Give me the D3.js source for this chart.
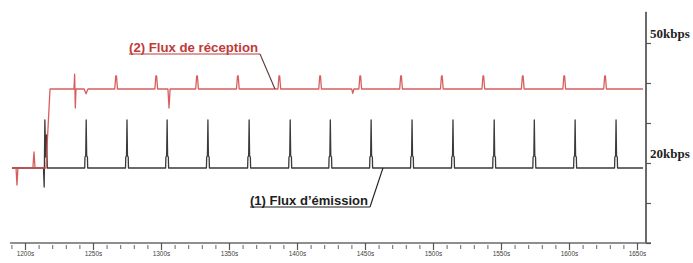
<!DOCTYPE html>
<html><head><meta charset="utf-8">
<script src="https://cdn.jsdelivr.net/npm/d3@7"></script>
<style>body{margin:0;background:#fff}svg{display:block}</style>
</head><body>
<svg id="c" width="693" height="263"></svg>
<script>
// ---- data (time in s, rate in kbps) ----
const xMajorTicks = [1200,1250,1300,1350,1400,1450,1500,1550,1600,1650];
const xTickLabels = ["1200s","1250s","1300s","1350s","1400s","1450s","1500s","1550s","1600s","1650s"];
const xMinorTicks = [1190,1210,1220,1230,1240,1260,1270,1280,1290,1310,1320,1330,1340,1360,1370,1380,1390,1410,1420,1430,1440,1460,1470,1480,1490,1510,1520,1530,1540,1560,1570,1580,1590,1610,1620,1630,1640];
const yTicks = [0,10,20,30,40,50];
const yLabels = [{v:50,t:"50kbps"},{v:20,t:"20kbps"}];
const tStart = 1190.4, tEnd = 1654.4;
// emission (1)
const emisBase = 18.75, emisPeak = 30.75, emisShoulder = 21.5;
const emisSpikes = [1245,1275,1304.5,1334.5,1364.8,1395,1424.5,1454.5,1484.6,1514.7,1545,1574.5,1604.5,1634.6];
const emisStartBurst = [[1213.6,18.75],[1214.1,14.0],[1214.6,30.75],[1215.2,21.5],[1215.8,27.0],[1216.4,18.75]];
// reception (2)
const recLow = 18.75, recBase = 38.5, recPeak = 41.8;
const recPre = [[1193.4,18.75],[1194.1,14.5],[1194.8,18.75],[1205.8,18.75],[1206.6,22.75],[1207.4,18.75],[1215.4,18.75],[1218.4,38.5]];
const recEvents = [[1236.0,38.5],[1236.5,42.2],[1237.0,33.75],[1237.5,38.5],[1243.5,38.5],[1244.9,37.3],[1246.3,38.5]];
const recDips = [[1305.9,33.75],[1441,37.4]];
const recSpikes = [1267,1296.5,1326.5,1356.5,1387,1417,1446.5,1476.5,1506.5,1537,1566,1596.5,1626.5];

// ---- layout ----
const svg = d3.select("#c");
const x = d3.scaleLinear().domain([1200,1650]).range([25,637]);
const y = d3.scaleLinear().domain([0,50]).range([243,43]);
const axisStart = 1189, axisEnd = 1656.6, yTop = 57.8;

function buildEmis(){
  const pts = [[tStart, emisBase]];
  emisStartBurst.forEach(p=>pts.push(p));
  emisSpikes.forEach(t=>{
    pts.push([t-1.1,emisBase],[t-0.9,emisShoulder],[t-0.35,emisShoulder+0.3],[t,emisPeak],[t+0.35,emisShoulder+0.3],[t+0.9,emisShoulder],[t+1.1,emisBase]);
  });
  pts.push([tEnd, emisBase]);
  return pts.sort((a,b)=>a[0]-b[0]);
}
function buildRec(){
  const pts = [[tStart, recLow]];
  recPre.forEach(p=>pts.push(p));
  recEvents.forEach(p=>pts.push(p));
  recSpikes.forEach(t=>{
    pts.push([t-1.0,recBase],[t-0.25,recPeak],[t+0.25,recPeak],[t+1.0,recBase]);
  });
  recDips.forEach(([t,v])=>{
    pts.push([t-0.8,recBase],[t,v],[t+0.8,recBase]);
  });
  pts.push([tEnd, recBase]);
  return pts.sort((a,b)=>a[0]-b[0]);
}
const line = d3.line().x(d=>x(d[0])).y(d=>y(d[1]));

svg.append("path").attr("d", line(buildEmis()))
  .attr("fill","none").attr("stroke","#3a3a3a").attr("stroke-width",1.3).attr("stroke-linejoin","round");
svg.append("path").attr("d", line(buildRec()))
  .attr("fill","none").attr("stroke","#d44c4c").attr("stroke-width",1.3).attr("stroke-linejoin","round").attr("stroke-opacity",0.9);

// bottom axis
const gx = svg.append("g").attr("transform",`translate(0,${y(0)})`);
gx.append("line").attr("x1",x(axisStart)).attr("x2",x(axisEnd)+5).attr("y1",0).attr("y2",0)
  .attr("stroke","#6a6a6a").attr("stroke-width",1.5);
gx.append("g").call(d3.axisBottom(x).tickValues(xMajorTicks).tickSize(7).tickFormat((d,i)=>xTickLabels[i]))
  .call(g=>g.select(".domain").remove())
  .call(g=>g.selectAll(".tick line").attr("stroke","#555").attr("stroke-width",1.2))
  .call(g=>g.selectAll(".tick text").attr("font-family","Liberation Sans, Arial, sans-serif").attr("font-size","6.5px").attr("fill","#444").attr("dy","0.55em").attr("y",9));
gx.append("g").attr("transform","translate(0,2)").call(d3.axisBottom(x).tickValues(xMinorTicks).tickSize(4).tickFormat(""))
  .call(g=>g.select(".domain").remove())
  .call(g=>g.selectAll(".tick line").attr("stroke","#666").attr("stroke-width",1));

// right axis
const gy = svg.append("g").attr("transform",`translate(${x(axisEnd)},0)`);
gy.append("line").attr("x1",0).attr("x2",0).attr("y1",y(yTop)).attr("y2",y(0))
  .attr("stroke","#6a6a6a").attr("stroke-width",2);
gy.append("g").call(d3.axisRight(y).tickValues(yTicks).tickSize(5).tickFormat(""))
  .call(g=>g.select(".domain").remove())
  .call(g=>g.selectAll(".tick line").attr("stroke","#555").attr("stroke-width",1.2));
yLabels.forEach(l=>{
  gy.append("text").attr("x",4).attr("y",y(l.v)-5).text(l.t)
    .attr("font-family","Liberation Serif, Times New Roman, serif").attr("font-weight","bold")
    .attr("font-size","13px").attr("fill","#222");
});

// annotations
function annot(txt, x0, yb, w, color, lineColor, tipT, tipV){
  svg.append("text").attr("x",x0).attr("y",yb).text(txt)
    .attr("font-family","Liberation Sans, Arial, sans-serif").attr("font-weight","bold")
    .attr("font-size","12px").attr("fill",color)
    .attr("textLength",w).attr("lengthAdjust","spacingAndGlyphs");
  svg.append("line").attr("x1",x0).attr("x2",x0+w+2).attr("y1",yb+2).attr("y2",yb+2)
    .attr("stroke",color).attr("stroke-width",1.2);
  svg.append("line").attr("x1",x0+w+2).attr("y1",yb+2).attr("x2",x(tipT)).attr("y2",y(tipV))
    .attr("stroke",lineColor).attr("stroke-width",1.1);
}
annot("(2)  Flux de réception", 129, 52, 129, "#c03a3a", "#5a3a3a", 1383.8, 38.5);
annot("(1)  Flux d\u2019émission", 250, 205, 118, "#1e1e1e", "#1e1e1e", 1463.2, 18.75);
</script>
</body></html>
